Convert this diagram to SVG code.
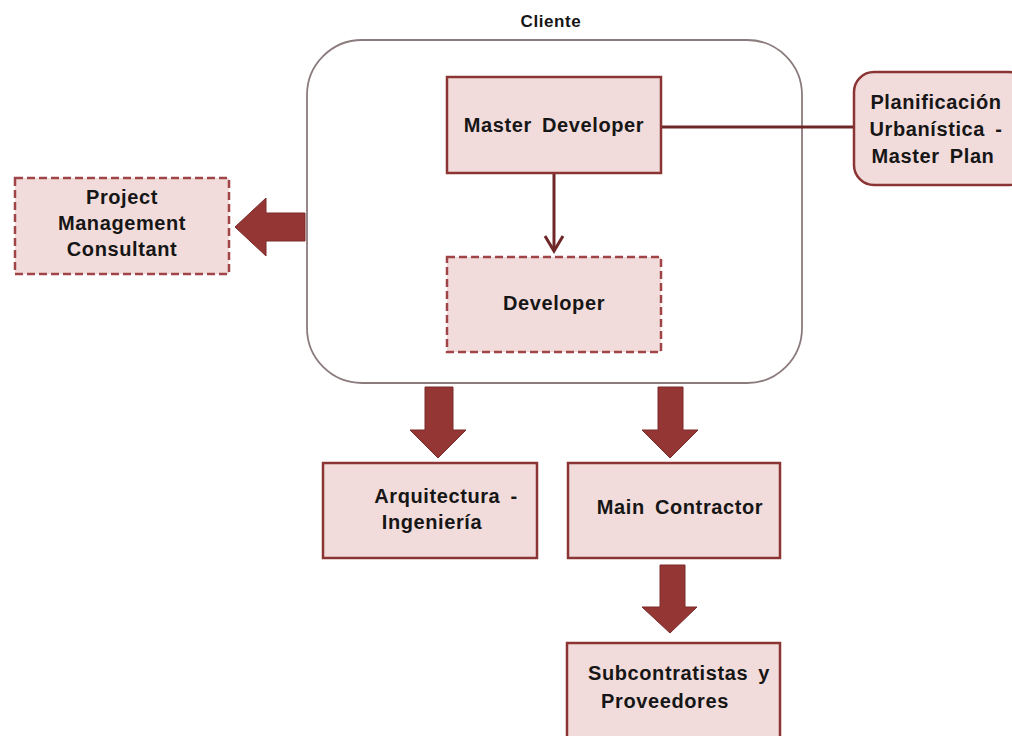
<svg xmlns="http://www.w3.org/2000/svg" width="1012" height="736" viewBox="0 0 1012 736">
<defs>
<style>
.box{fill:#f2dcdb;stroke:#8b3434;stroke-width:2.5}
.dash{fill:#f2dcdb;stroke:#a04448;stroke-width:2.5;stroke-dasharray:8 4}
.t{font-family:"Liberation Sans",Arial,sans-serif;font-size:20px;font-weight:bold;fill:#161616;text-anchor:middle;letter-spacing:0.6px;word-spacing:4px}
.blk{fill:#943634;stroke:#7a2a2a;stroke-width:1}
.ln{fill:none;stroke:#6e2626;stroke-width:3}
</style>
</defs>
<rect width="1012" height="736" fill="#ffffff"/>
<text class="t" x="551" y="27" style="font-size:17px;letter-spacing:0.6px">Cliente</text>
<g id="cliente">
<rect x="307" y="40" width="495" height="343" rx="55" ry="55" fill="#ffffff" stroke="#8c7b7d" stroke-width="1.8"/>
</g>
<g id="connectors">
<line class="ln" x1="661" y1="127" x2="854" y2="127"/>
<line class="ln" x1="554" y1="173" x2="554" y2="251"/>
<polyline class="ln" points="545,236 554,251 563,236"/>
<polygon class="blk" points="305,213 266,213 266,198 235,227 266,256 266,241 305,241"/>
<polygon class="blk" points="425,387 453,387 453,430 466,430 438,458 410,430 425,430"/>
<polygon class="blk" points="658,387 683,387 683,430 698,430 670,458 642,430 658,430"/>
<polygon class="blk" points="660,565 685,565 685,607 697,607 670,633 642,607 660,607"/>
</g>
<g id="master-developer">
<rect class="box" x="447" y="77" width="214" height="96"/>
<text class="t" x="554" y="132">Master Developer</text>
</g>
<g id="developer">
<rect class="dash" x="447" y="257" width="214" height="95"/>
<text class="t" x="554" y="310">Developer</text>
</g>
<g id="planificacion">
<rect class="box" x="854" y="72" width="175" height="113" rx="20" ry="20"/>
<text class="t" x="936" y="109">Planificación</text>
<text class="t" x="936" y="136">Urbanística -</text>
<text class="t" x="933" y="163">Master Plan</text>
</g>
<g id="pmc">
<rect class="dash" x="15" y="178" width="214" height="96"/>
<text class="t" x="122" y="204">Project</text>
<text class="t" x="122" y="230">Management</text>
<text class="t" x="122" y="256">Consultant</text>
</g>
<g id="arquitectura">
<rect class="box" x="323" y="463" width="214" height="95"/>
<text class="t" x="446" y="503">Arquitectura -</text>
<text class="t" x="432" y="529">Ingeniería</text>
</g>
<g id="main-contractor">
<rect class="box" x="568" y="463" width="212" height="95"/>
<text class="t" x="680" y="514">Main Contractor</text>
</g>
<g id="subcontratistas">
<rect class="box" x="567" y="643" width="213" height="100"/>
<text class="t" x="679" y="680">Subcontratistas y</text>
<text class="t" x="665" y="708">Proveedores</text>
</g>
</svg>
